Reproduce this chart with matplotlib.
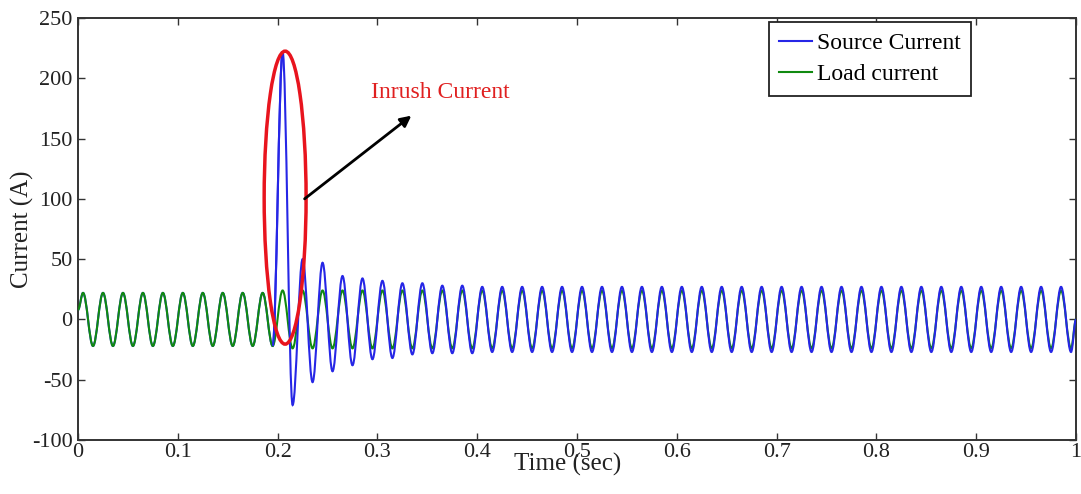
import numpy as np
import matplotlib
matplotlib.use('Agg')
import matplotlib.pyplot as plt
from matplotlib.patches import Ellipse, PathPatch
from matplotlib.path import Path
from matplotlib.lines import Line2D

plt.rcParams['font.family'] = ['Liberation Serif', 'DejaVu Serif']

#_________________________________________________________________________________________________________________________________
# values: one peak and one trough per 50 Hz cycle (0.02 s), 50 cycles from 0 to 1 s

cycle_len = 0.02
start_value = 8
end_value = 0

load_peaks = [22, 22, 22, 22, 22, 22, 22, 22, 22, 22,
              24, 24, 24, 24, 24, 24, 24, 24, 24, 24,
              24, 24, 24, 24, 24, 24, 24, 24, 24, 24,
              24, 24, 24, 24, 24, 24, 24, 24, 24, 24,
              24, 24, 24, 24, 24, 24, 24, 24, 24, 24]
load_troughs = [-22, -22, -22, -22, -22, -22, -22, -22, -22, -22,
                -24, -24, -24, -24, -24, -24, -24, -24, -24, -24,
                -24, -24, -24, -24, -24, -24, -24, -24, -24, -24,
                -24, -24, -24, -24, -24, -24, -24, -24, -24, -24,
                -24, -24, -24, -24, -24, -24, -24, -24, -24, -24]

source_peaks = [22, 22, 22, 22, 22, 22, 22, 22, 22, 22,
                222, 50, 47, 36, 34, 32, 30, 30, 28, 28,
                27, 27, 27, 27, 27, 27, 27, 27, 27, 27,
                27, 27, 27, 27, 27, 27, 27, 27, 27, 27,
                27, 27, 27, 27, 27, 27, 27, 27, 27, 27]
source_troughs = [-22, -22, -22, -22, -22, -22, -22, -22, -22, -22,
                  -71, -52, -43, -38, -33, -32, -29, -28, -28, -28,
                  -27, -27, -27, -27, -27, -27, -27, -27, -27, -27,
                  -27, -27, -27, -27, -27, -27, -27, -27, -27, -27,
                  -27, -27, -27, -27, -27, -27, -27, -27, -27, -27]

xticks = [0, 0.1, 0.2, 0.3, 0.4, 0.5, 0.6, 0.7, 0.8, 0.9, 1.0]
xtick_labels = ['0', '0.1', '0.2', '0.3', '0.4', '0.5', '0.6', '0.7', '0.8', '0.9', '1']
yticks = [-100, -50, 0, 50, 100, 150, 200, 250]
ytick_labels = ['-100', '-50', '0', '50', '100', '150', '200', '250']

switch_cycle = 10   # breaker closes at 0.2 s


def extrema(peaks, troughs):
    # time and value of every peak / trough, plus the two ends
    t = [0.0]
    y = [start_value]
    for k in range(len(peaks)):
        t0 = k * cycle_len
        t += [t0 + cycle_len / 4, t0 + 3 * cycle_len / 4]
        y += [peaks[k], troughs[k]]
    t.append(len(peaks) * cycle_len)
    y.append(end_value)
    return t, y


def wave_path(t, y):
    # smooth curve between extrema, flat tangent at each one
    verts = [(t[0], y[0])]
    codes = [Path.MOVETO]
    for i in range(1, len(t)):
        d = t[i] - t[i - 1]
        verts += [(t[i - 1] + 0.36 * d, y[i - 1]), (t[i] - 0.36 * d, y[i]), (t[i], y[i])]
        codes += [Path.CURVE4] * 3
    return Path(verts, codes)


#_________________________________________________________________________________________________________________________________


def main():
    t_src, i_src = extrema(source_peaks, source_troughs)
    t_load, i_load = extrema(load_peaks, load_troughs)

    fig = plt.figure(figsize=(10.81, 4.94), dpi=100)
    ax = fig.add_axes([0.0722, 0.1093, 0.9232, 0.8543])

    blue = '#2626e6'
    green = '#108a10'
    lw = 1.5

    n = 2 * switch_cycle + 1   # index of last trough before switching
    ax.add_patch(PathPatch(wave_path(t_src[:n + 1], i_src[:n + 1]), fill=False, ec=blue, lw=lw, zorder=2))
    ax.add_patch(PathPatch(wave_path(t_load, i_load), fill=False, ec=green, lw=lw, zorder=3))
    ax.add_patch(PathPatch(wave_path(t_src[n - 1:], i_src[n - 1:]), fill=False, ec=blue, lw=lw, zorder=4))

    # inrush marker
    ell = Ellipse((0.2075, 101), 0.042, 243, fill=False, ec='#e8141e', lw=2.5, zorder=5)
    ax.add_patch(ell)
    ax.annotate('', xy=(0.334, 169), xytext=(0.227, 100),
                arrowprops=dict(arrowstyle='-|>', color='k', lw=2, mutation_scale=16, shrinkA=0, shrinkB=0),
                zorder=6)
    ax.text(0.363, 188, 'Inrush Current', color='#e02020', fontsize=17, ha='center', va='center')

    ax.set_xlim(0, 1)
    ax.set_ylim(-100, 250)
    ax.set_xticks(xticks)
    ax.set_xticklabels(xtick_labels)
    ax.set_yticks(yticks)
    ax.set_yticklabels(ytick_labels)
    ax.tick_params(direction='in', length=5, width=1, top=True, right=True,
                   labelsize=16, labelcolor='#222222', color='#333333')
    ax.tick_params(axis='x', pad=2)
    ax.tick_params(axis='y', pad=4)
    for s in ax.spines.values():
        s.set_linewidth(1.4)
        s.set_color('#333333')

    ax.set_xlabel('Time (sec)', fontsize=18, color='#222222', va='top')
    ax.xaxis.set_label_coords(0.491, -0.030)
    ax.set_ylabel('Current (A)', fontsize=18, color='#222222')
    ax.yaxis.set_label_coords(-0.044, 0.5)

    handles = [Line2D([], [], color=blue, lw=lw), Line2D([], [], color=green, lw=lw)]
    leg = ax.legend(handles, ['Source Current', 'Load current'],
                    loc='upper left', bbox_to_anchor=(0.692, 0.99), fontsize=17,
                    handlelength=1.4, handletextpad=0.2, borderpad=0.45, labelspacing=0.4,
                    borderaxespad=0, fancybox=False, framealpha=1, edgecolor='#222222')
    leg.get_frame().set_linewidth(1.3)
    leg.set_zorder(10)

    fig.savefig('out.png', dpi=100)
    plt.close()


if __name__ == '__main__':

    main()
